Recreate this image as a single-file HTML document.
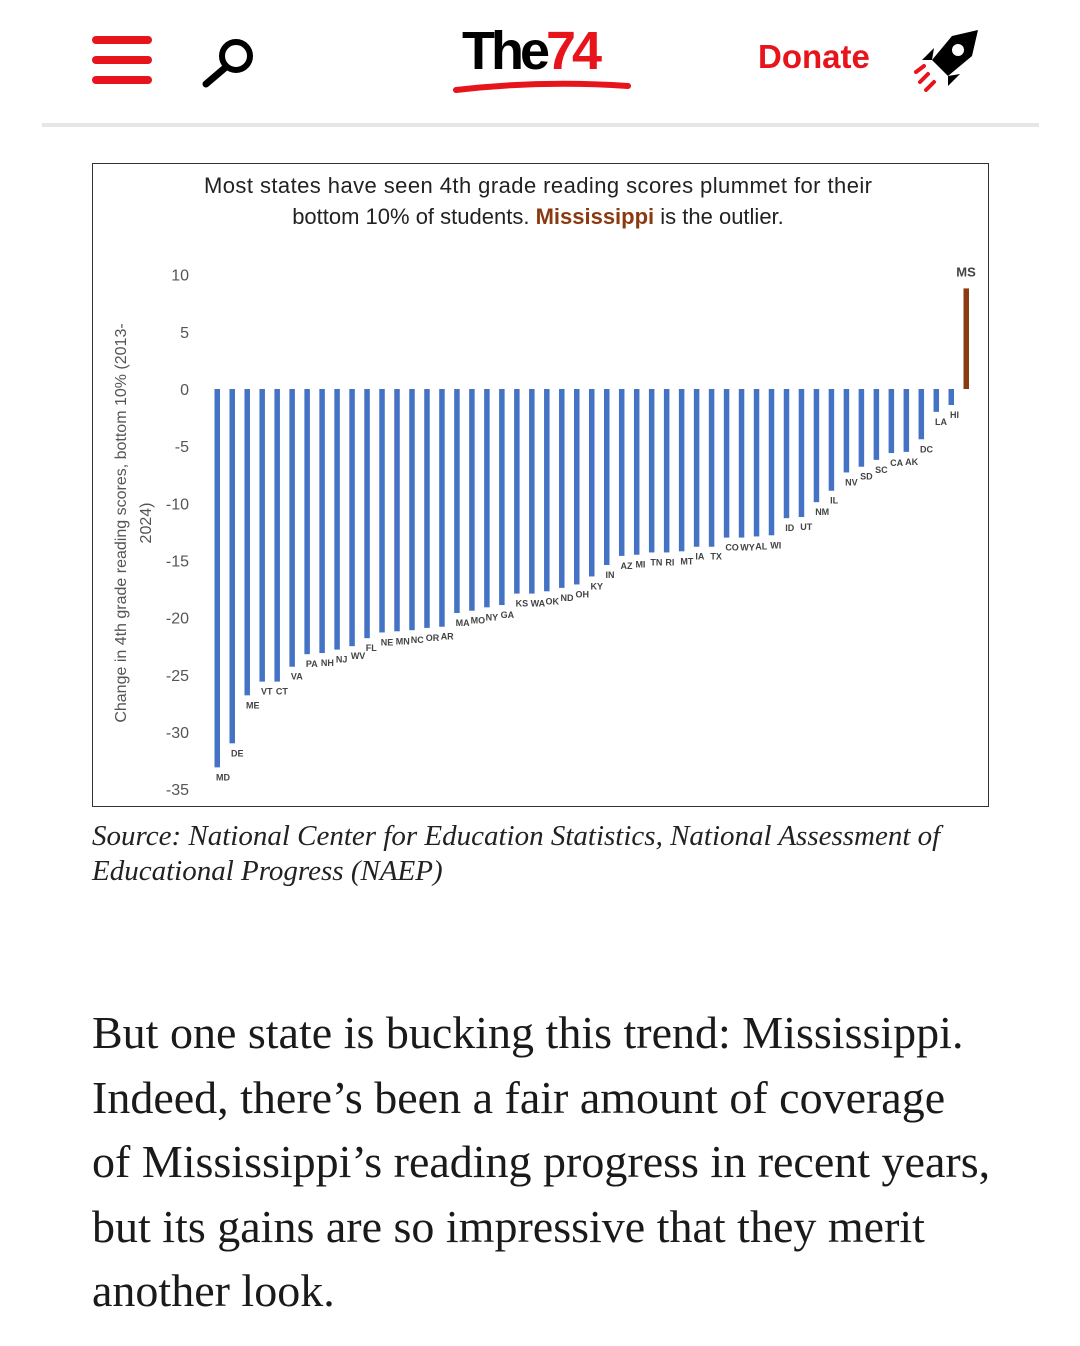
<!DOCTYPE html>
<html><head><meta charset="utf-8">
<style>
body{margin:0;width:1080px;height:1346px;background:#fff;position:relative;overflow:hidden;font-family:"Liberation Sans",sans-serif}
.abs{position:absolute}
.src{left:92px;top:819px;font-family:"Liberation Serif",serif;font-style:italic;font-size:29px;line-height:35px;color:#222;white-space:nowrap}
.body{left:92px;top:1001px;width:980px;font-family:"Liberation Serif",serif;font-size:46px;line-height:64.5px;color:#1a1a1a;white-space:nowrap}
</style></head><body>
<div class="abs" style="left:92px;top:36px;width:60px;height:48px">
<div style="position:absolute;top:0;width:60px;height:8px;background:#e8141c;border-radius:4px"></div>
<div style="position:absolute;top:20px;width:60px;height:8px;background:#e8141c;border-radius:4px"></div>
<div style="position:absolute;top:40px;width:60px;height:8px;background:#e8141c;border-radius:4px"></div></div>
<svg class="abs" style="left:198px;top:36px" width="62" height="52"><circle cx="38" cy="20" r="14" fill="none" stroke="#000" stroke-width="6"/><line x1="28" y1="31" x2="8" y2="48" stroke="#000" stroke-width="7" stroke-linecap="round"/></svg>
<div class="abs" style="left:462px;top:20px;font-size:54px;font-weight:bold;letter-spacing:-4px;color:#000">The<span style="color:#e8141c">74</span></div>
<svg class="abs" style="left:452px;top:78px" width="180" height="20"><path d="M4 12 Q90 2 176 8" stroke="#e8141c" stroke-width="6" fill="none" stroke-linecap="round"/></svg>
<div class="abs" style="left:758px;top:38px;font-size:33px;font-weight:bold;color:#e8141c">Donate</div>
<svg class="abs" style="left:912px;top:26px" width="72" height="72"><path d="M66 4 L40 10 L20 34 L36 50 L60 30 Z" fill="#000"/><circle cx="46" cy="24" r="6" fill="#fff"/><path d="M20 34 L10 34 L22 22 Z M36 50 L36 60 L48 48 Z" fill="#000"/><path d="M8 56 L16 48 M14 64 L22 56 M4 46 L12 40" stroke="#e8141c" stroke-width="4" stroke-linecap="round"/></svg>
<div class="abs" style="left:42px;top:123px;width:997px;height:4px;background:#e6e6e6"></div>

<svg class="abs" style="left:0;top:0" width="1080" height="820" id="chart">
<rect x="92.5" y="163.5" width="896" height="643" fill="#fff" stroke="#333" stroke-width="1"/>
<text x="538" y="193" text-anchor="middle" font-size="22" fill="#222" textLength="668">Most states have seen 4th grade reading scores plummet for their</text>
<text x="538" y="224" text-anchor="middle" font-size="22" fill="#222">bottom 10% of students. <tspan font-weight="bold" fill="#8b3a10">Mississippi</tspan> is the outlier.</text>
<text transform="translate(126,523) rotate(-90)" text-anchor="middle" font-size="16" fill="#555">Change in 4th grade reading scores, bottom 10% (2013-</text>
<text transform="translate(151,523) rotate(-90)" text-anchor="middle" font-size="16" fill="#555">2024)</text>
<g id="ticks"></g><g id="bars"></g>
</svg>
<script>
const states=["MD","DE","ME","VT","CT","VA","PA","NH","NJ","WV","FL","NE","MN","NC","OR","AR","MA","MO","NY","GA","KS","WA","OK","ND","OH","KY","IN","AZ","MI","TN","RI","MT","IA","TX","CO","WY","AL","WI","ID","UT","NM","IL","NV","SD","SC","CA","AK","DC","LA","HI","MS"];
const changes=[-33.1,-31.0,-26.8,-25.6,-25.6,-24.3,-23.2,-23.1,-22.8,-22.5,-21.8,-21.3,-21.2,-21.1,-20.9,-20.8,-19.6,-19.4,-19.1,-18.9,-17.9,-17.9,-17.7,-17.4,-17.1,-16.4,-15.4,-14.6,-14.5,-14.3,-14.3,-14.2,-13.8,-13.8,-13.0,-13.0,-12.9,-12.8,-11.3,-11.2,-9.9,-8.9,-7.3,-6.8,-6.2,-5.6,-5.5,-4.4,-2.0,-1.4,8.8];
const yTicks=[10,5,0,-5,-10,-15,-20,-25,-30,-35];
const NS="http://www.w3.org/2000/svg";
const y=v=>389-v*11.43;
const x=i=>217+i*14.98;
const tg=document.getElementById('ticks'),bg=document.getElementById('bars');
yTicks.forEach(t=>{const e=document.createElementNS(NS,'text');


e.setAttribute('x',189);e.setAttribute('y',y(t)+6);e.setAttribute('text-anchor','end');e.setAttribute('font-size','16');e.setAttribute('fill','#555');e.textContent=t;tg.appendChild(e);});
changes.forEach((v,i)=>{const ms=states[i]==="MS";const r=document.createElementNS(NS,'rect');


r.setAttribute('x',x(i)-2.5);r.setAttribute('width',5.5);r.setAttribute('y',Math.min(y(0),y(v)));r.setAttribute('height',Math.abs(y(v)-y(0)));r.setAttribute('fill',ms?'#8b3a10':'#4472c4');bg.appendChild(r);
const l=document.createElementNS(NS,'text');


if(ms){l.setAttribute('x',x(i));l.setAttribute('y',y(v)-12);l.setAttribute('text-anchor','middle');l.setAttribute('font-size','13');}
else{l.setAttribute('x',x(i)-1);l.setAttribute('y',y(v)+13);l.setAttribute('font-size','9');}
l.setAttribute('font-weight','bold');l.setAttribute('fill','#444');l.textContent=states[i];bg.appendChild(l);});
</script>
<div class="abs src">Source: National Center for Education Statistics, National Assessment of<br>Educational Progress (NAEP)</div>
<div class="abs body">But one state is bucking this trend: Mississippi.<br>Indeed, there’s been a fair amount of coverage<br>of Mississippi’s reading progress in recent years,<br>but its gains are so impressive that they merit<br>another look.</div>
</body></html>
